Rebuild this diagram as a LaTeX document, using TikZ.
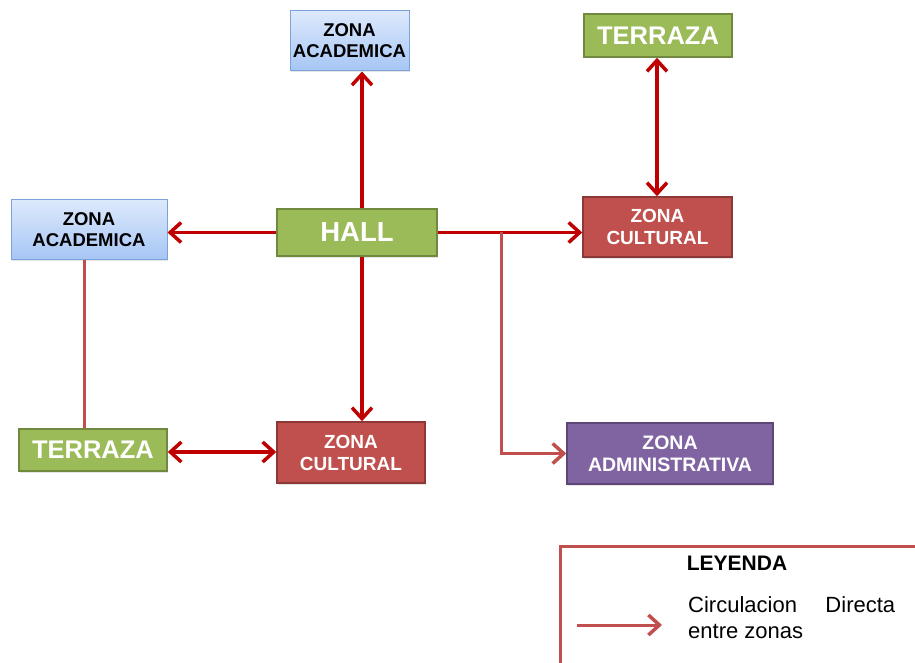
\documentclass[tikz,border=0pt]{standalone}
\usepackage{fontspec}
\setmainfont{Liberation Sans}
\usetikzlibrary{arrows.meta,shadows}

\definecolor{flowred}{HTML}{C00000}
\definecolor{softred}{HTML}{C0504D}
\definecolor{softredborder}{HTML}{8C3836}
\definecolor{leafgreen}{HTML}{9BBB59}
\definecolor{leafborder}{HTML}{71893F}
\definecolor{skytop}{HTML}{DDE9FC}
\definecolor{skybottom}{HTML}{A6C6F5}
\definecolor{skyborder}{HTML}{7BA3D9}
\definecolor{violet}{HTML}{8064A2}
\definecolor{violetborder}{HTML}{5C4776}

\tikzset{
  zone/.style={draw, line width=1.5pt, inner sep=0pt, align=center,
    font=\bfseries, drop shadow={shadow xshift=1pt, shadow yshift=-1.5pt, opacity=0.2}},
  academic/.style={zone, draw=skyborder, line width=1pt, top color=skytop,
    bottom color=skybottom, text=black, font=\bfseries\fontsize{18.5}{21}\selectfont},
  greenzone/.style={zone, draw=leafborder, fill=leafgreen, text=white},
  culture/.style={zone, draw=softredborder, fill=softred, text=white,
    font=\bfseries\fontsize{19}{22}\selectfont},
  admin/.style={zone, draw=violetborder, fill=violet, text=white,
    font=\bfseries\fontsize{19.5}{22}\selectfont},
  tip/.tip={Straight Barb[length=11pt, width=20pt, line width=3.5pt]},
  flow/.style={draw=flowred, line width=3.5pt, -tip},
  twoway/.style={draw=flowred, line width=3.5pt, tip-tip},
  link/.style={draw=softred, line width=3pt},
  linkarrow/.style={link, -tip},
}

\begin{document}
\begin{tikzpicture}[x=1pt, y=-1pt]
  \clip (0,0) rectangle (915,663);
  \fill[white] (0,0) rectangle (915,663);

  % zones
  \node[academic, minimum width=119pt, minimum height=60pt] (acadT) at (349.5,41) {ZONA\\ACADEMICA};
  \node[greenzone, minimum width=148pt, minimum height=43pt,
        font=\bfseries\fontsize{25.5}{27}\selectfont] (terrT) at (658,35.5) {TERRAZA};
  \node[academic, minimum width=156pt, minimum height=59pt] (acadL) at (89,229.5) {ZONA\\ACADEMICA};
  \node[greenzone, minimum width=160pt, minimum height=47pt,
        font=\bfseries\fontsize{27.5}{29}\selectfont] (hall) at (357,232.5) {HALL};
  \node[culture, minimum width=149pt, minimum height=60pt] (cultR) at (657.5,227) {ZONA\\CULTURAL};
  \node[greenzone, minimum width=148pt, minimum height=42pt,
        font=\bfseries\fontsize{25.5}{27}\selectfont] (terrB) at (93,450) {TERRAZA};
  \node[culture, minimum width=148pt, minimum height=61pt] (cultB) at (351,452.5) {ZONA\\CULTURAL};
  \node[admin, minimum width=206pt, minimum height=61pt] (adm) at (670,453.5) {ZONA\\ADMINISTRATIVA};

  % circulation from the hall
  \draw[flow] (hall.north -| 362,0) -- (acadT.south -| 362,0);
  \draw[flow] (hall.south -| 362,0) -- (cultB.north -| 362,0);
  \draw[flow] (hall.west) -- (acadL.east |- hall.west);
  \draw[flow] (hall.east) -- (cultR.west |- hall.east);
  \draw[twoway] (terrT.south -| 657,0) -- (cultR.north -| 657,0);
  \draw[twoway] (terrB.east |- 0,452) -- (cultB.west |- 0,452);

  % secondary links
  \draw[link] (acadL.south -| 84,0) -- (terrB.north -| 84,0);
  \coordinate (branch) at (501,232);
  \draw[linkarrow] (branch) |- (adm.west);

  % legend
  \node[draw=softred, line width=3pt, minimum width=400pt, minimum height=160pt,
        anchor=north west, inner sep=0pt] (legend) at (559,545) {};
  \node[font=\bfseries\fontsize{21}{23}\selectfont] (legtitle) at (737,563) {LEYENDA};
  \coordinate (keystart) at (577,625);
  \coordinate (keyend) at (662,625);
  \draw[linkarrow] (keystart) -- (keyend);
  \node[anchor=north west, inner sep=0pt, align=left,
        font=\fontsize{22}{26}\selectfont] (legtext) at (688,596)
        {\makebox[207pt][s]{Circulacion\hfill Directa}\\entre zonas};
\end{tikzpicture}
\end{document}
